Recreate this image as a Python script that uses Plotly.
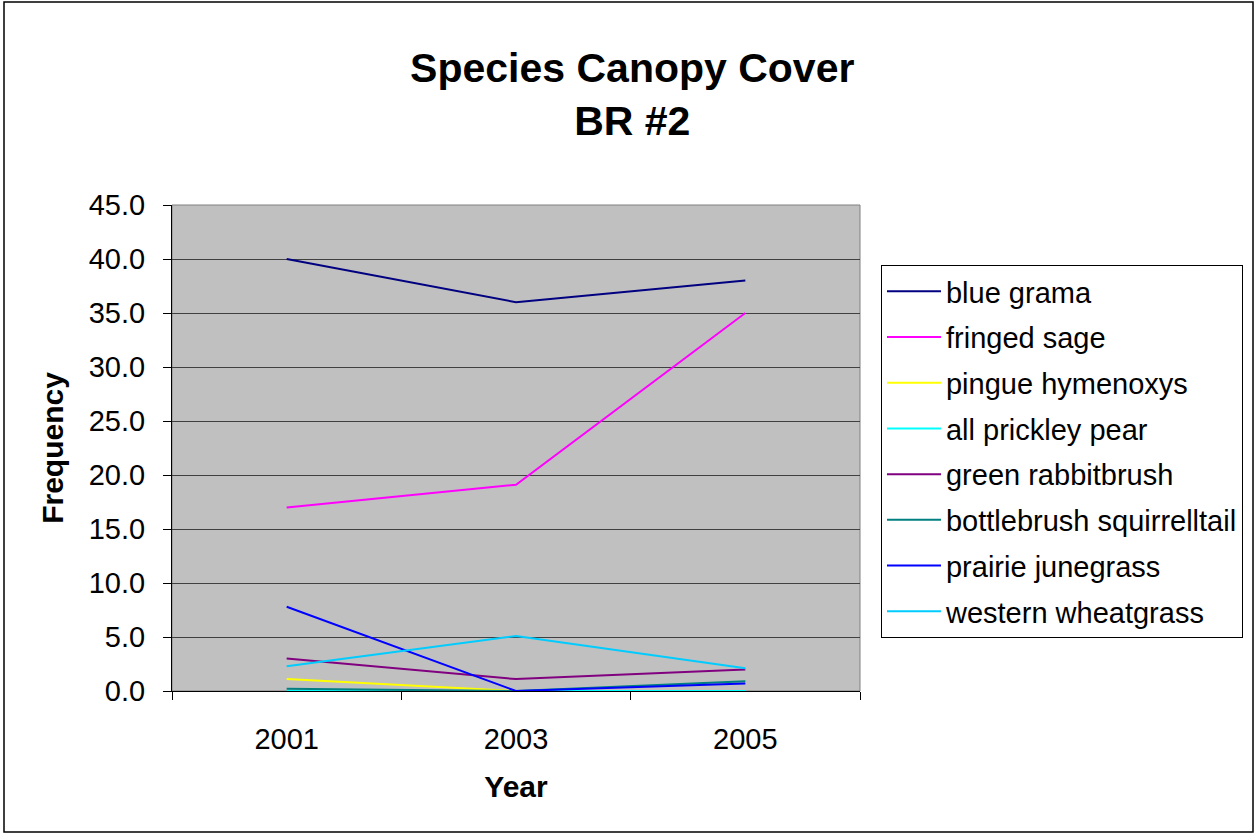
import plotly.graph_objects as go

years = ["2001", "2003", "2005"]
species = ["blue grama", "fringed sage", "pingue hymenoxys", "all prickley pear",
           "green rabbitbrush", "bottlebrush squirrelltail", "prairie junegrass",
           "western wheatgrass"]
blue_grama = [40.0, 36.0, 38.0]
fringed_sage = [17.0, 19.1, 35.0]
pingue_hymenoxys = [1.1, 0.0, 0.0]
all_prickley_pear = [0.0, 0.0, 0.0]
green_rabbitbrush = [3.0, 1.1, 2.0]
bottlebrush_squirrelltail = [0.2, 0.0, 0.9]
prairie_junegrass = [7.8, 0.0, 0.7]
western_wheatgrass = [2.3, 5.1, 2.1]
series = [blue_grama, fringed_sage, pingue_hymenoxys, all_prickley_pear,
          green_rabbitbrush, bottlebrush_squirrelltail, prairie_junegrass,
          western_wheatgrass]
colors = ["#000080", "#FF00FF", "#FFFF00", "#00FFFF", "#800080", "#008080",
          "#0000FF", "#00CCFF"]

fig = go.Figure()
for i, (name, vals, col) in enumerate(zip(species, series, colors)):
    fig.add_trace(go.Scatter(x=years, y=vals, name=name, mode="lines",
                             line=dict(color=col, width=2), legendgroup=str(i)))

fig.update_layout(
    width=1257, height=835,
    paper_bgcolor="white", plot_bgcolor="#C0C0C0",
    margin=dict(l=172, r=397, t=205, b=144),
    font=dict(family="Liberation Sans, Arial", size=29, color="black"),
    title=dict(text="<b>Species Canopy Cover<br>BR #2</b>", x=0.503, xanchor="center",
               y=0.902, yanchor="middle", font=dict(size=41)),
    showlegend=True,
    legend=dict(x=1.0305, xanchor="left", y=0.8765, yanchor="top",
                bordercolor="black", borderwidth=1, bgcolor="white",
                font=dict(size=29), tracegroupgap=5, itemwidth=54),
)
fig.update_xaxes(type="category", range=[-0.5, 2.5], tickson="boundaries",
                 ticks="outside", ticklen=8, ticklabelstandoff=22,
                 tickcolor="black", showline=True, linecolor="black", linewidth=1,
                 showgrid=False, mirror=False,
                 title=dict(text="<b>Year</b>", font=dict(size=30), standoff=22))
fig.update_yaxes(range=[0, 45], dtick=5, tickformat=".1f", ticks="outside", ticklen=8,
                 ticklabelstandoff=12,
                 tickcolor="black", showline=True, linecolor="black", linewidth=1,
                 gridcolor="#404040", gridwidth=1, zeroline=False,
                 title=dict(text="<b>Frequency</b>", font=dict(size=30), standoff=16))
fig.add_shape(type="rect", xref="paper", yref="paper", x0=0, x1=1, y0=0, y1=1,
              line=dict(color="#808080", width=1), layer="below")
fig.add_shape(type="rect", xref="paper", yref="paper",
              x0=-168/688, x1=(1253-172)/688, y0=-(832-691)/486, y1=(691-2)/486,
              line=dict(color="black", width=1.5))
fig.write_html("out.html")
